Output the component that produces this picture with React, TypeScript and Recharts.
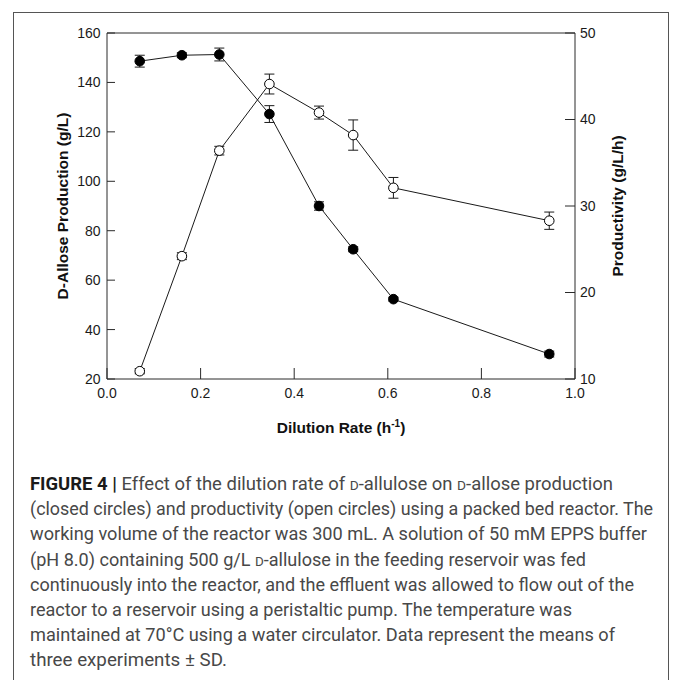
import { LineChart, Line, XAxis, YAxis, ErrorBar, ReferenceLine } from 'recharts';

// Effect of dilution rate on D-allose production / productivity (packed bed reactor)

const dilutionRate = [0.07, 0.16, 0.24, 0.347, 0.453, 0.526, 0.612, 0.945];
const alloseProduction = [148.6, 151.0, 151.3, 127.2, 90.0, 72.5, 52.3, 30.1];
const alloseProductionSd = [2.4, 1.0, 2.6, 3.4, 1.7, 1.0, 0.8, 1.2];
const productivity = [10.9, 24.2, 36.4, 44.1, 40.8, 38.2, 32.1, 28.3];
const productivitySd = [0.3, 0.4, 0.5, 1.15, 0.75, 1.75, 1.2, 1.0];

const xTicks = [0, 0.2, 0.4, 0.6, 0.8, 1.0];
const leftTicks = [20, 40, 60, 80, 100, 120, 140, 160];
const rightTicks = [10, 20, 30, 40, 50];

type Part = { text: string; bold?: boolean; smallCap?: boolean };

const captionLines: Part[][] = [
  [
    { text: 'FIGURE 4 | ', bold: true },
    { text: 'Effect of the dilution rate of ' },
    { text: 'D', smallCap: true },
    { text: '-allulose on ' },
    { text: 'D', smallCap: true },
    { text: '-allose production' },
  ],
  [{ text: '(closed circles) and productivity (open circles) using a packed bed reactor. The' }],
  [{ text: 'working volume of the reactor was 300 mL. A solution of 50 mM EPPS buffer' }],
  [
    { text: '(pH 8.0) containing 500 g/L ' },
    { text: 'D', smallCap: true },
    { text: '-allulose in the feeding reservoir was fed' },
  ],
  [{ text: 'continuously into the reactor, and the effluent was allowed to flow out of the' }],
  [{ text: 'reactor to a reservoir using a peristaltic pump. The temperature was' }],
  [{ text: 'maintained at 70°C using a water circulator. Data represent the means of' }],
  [{ text: 'three experiments ± SD.' }],
];

const CAPTION_WIDTHS = [583, 623, 617, 556, 604, 542, 585, 197];

const data = dilutionRate.map((rate, i) => ({
  rate,
  production: alloseProduction[i],
  productionSd: alloseProductionSd[i],
  productivity: productivity[i],
  productivitySd: productivitySd[i],
}));

const AXIS = '#2a2a2a';
const tickStyle = { fontSize: 14, fill: '#1a1a1a' };

function XTitle(props: any) {
  const vb = props.viewBox || { x: 107, y: 379, width: 468 };
  return (
    <text
      x={vb.x + vb.width / 2}
      y={vb.y + 54}
      textAnchor="middle"
      fontSize={15.5}
      fontWeight={700}
      fill="#111"
    >
      Dilution Rate (h
      <tspan dy={-6} fontSize={10}>-1</tspan>
      <tspan dy={6}>)</tspan>
    </text>
  );
}

function Caption() {
  return (
    <svg
      width={673}
      height={220}
      style={{ position: 'absolute', left: 0, top: 460 }}
      fontFamily="'Liberation Sans Narrow', Roboto, 'Liberation Sans', sans-serif"
    >
      {captionLines.map((parts, i) => (
        <text
          key={i}
          x={30}
          y={30 + i * 25.2}
          fontSize={17.5}
          fill="#484848"
          textLength={CAPTION_WIDTHS[i]}
          lengthAdjust="spacingAndGlyphs"
        >
          {parts.map((p, j) => (
            <tspan
              key={j}
              fontWeight={p.bold ? 700 : 400}
              fill={p.bold ? '#1a1a1a' : undefined}
              fontSize={p.smallCap ? 13 : undefined}
            >
              {p.text}
            </tspan>
          ))}
        </text>
      ))}
    </svg>
  );
}

export default function App() {
  return (
    <div
      style={{
        position: 'absolute',
        left: 0,
        top: 0,
        width: 673,
        height: 680,
        background: '#fff',
        overflow: 'hidden',
        fontFamily: "'Liberation Sans', Arial, sans-serif",
      }}
    >
      <div
        style={{
          position: 'absolute',
          left: 13,
          top: 11.5,
          width: 656,
          height: 700,
          boxSizing: 'border-box',
          borderTop: '1.5px solid #555',
          borderLeft: '1.5px solid #555',
          borderRight: '1.5px solid #555',
        }}
      />
      <div style={{ position: 'absolute', left: 0, top: 0 }}>
        <LineChart width={673} height={440} data={data} margin={{ top: 33, right: 14, bottom: 21, left: 18 }}>
          <XAxis
            dataKey="rate"
            type="number"
            domain={[0, 1]}
            ticks={xTicks}
            tickFormatter={(v: number) => v.toFixed(1)}
            height={40}
            stroke={AXIS}
            tickSize={-11}
            tickMargin={20}
            tick={tickStyle}
            label={<XTitle />}
          />
          <YAxis
            yAxisId="left"
            orientation="left"
            domain={[20, 160]}
            ticks={leftTicks}
            width={89}
            stroke={AXIS}
            tickSize={-8}
            tickMargin={14.5}
            tick={tickStyle}
            label={{
              value: 'D-Allose Production (g/L)',
              angle: -90,
              position: 'center',
              fontSize: 15.5,
              fontWeight: 700,
              fill: '#111',
            }}
          />
          <YAxis
            yAxisId="right"
            orientation="right"
            domain={[10, 50]}
            ticks={rightTicks}
            width={84}
            stroke={AXIS}
            tickSize={-10}
            tickMargin={15}
            tick={tickStyle}
            label={{
              value: 'Productivity (g/L/h)',
              angle: -90,
              position: 'center',
              fontSize: 15.5,
              fontWeight: 700,
              fill: '#111',
            }}
          />
          <ReferenceLine yAxisId="left" y={160} stroke={AXIS} />
          <Line
            yAxisId="left"
            dataKey="production"
            type="linear"
            stroke="#1a1a1a"
            strokeWidth={1}
            dot={{ r: 4.8, fill: '#000', stroke: '#000', strokeWidth: 1 }}
            activeDot={false}
            isAnimationActive={false}
          >
            <ErrorBar dataKey="productionSd" direction="y" width={5} stroke="#1a1a1a" strokeWidth={1} isAnimationActive={false} />
          </Line>
          <Line
            yAxisId="right"
            dataKey="productivity"
            type="linear"
            stroke="#1a1a1a"
            strokeWidth={1}
            dot={{ r: 4.8, fill: '#fff', stroke: '#000', strokeWidth: 1 }}
            activeDot={false}
            isAnimationActive={false}
          >
            <ErrorBar dataKey="productivitySd" direction="y" width={5} stroke="#1a1a1a" strokeWidth={1} isAnimationActive={false} />
          </Line>
        </LineChart>
      </div>
      <Caption />
    </div>
  );
}
